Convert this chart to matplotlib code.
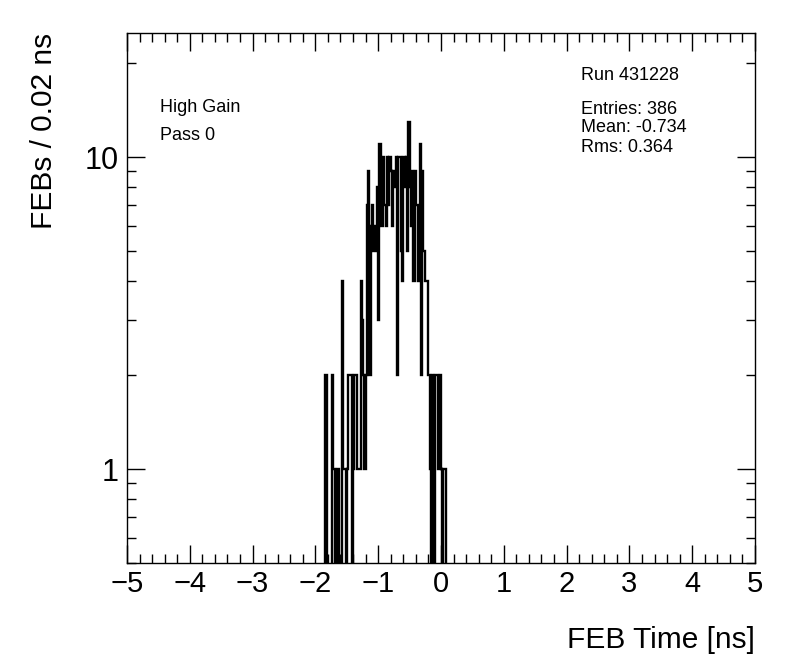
import numpy as np
import matplotlib
matplotlib.use("Agg")
import matplotlib.pyplot as plt
from matplotlib.ticker import MultipleLocator, FixedLocator, FixedFormatter, NullFormatter

plt.rcParams['font.family'] = ['Liberation Sans', 'DejaVu Sans']

# FEB time histogram, 0.02 ns bins starting at -1.90 ns
bin_start = -1.90
bin_width = 0.02
counts = [0, 0, 0, 2, 0, 0, 0, 0, 2, 1,
          1, 0, 1, 1, 0, 0, 4, 1, 1, 0,
          1, 2, 2, 2, 0, 1, 2, 2, 1, 1,
          1, 4, 3, 2, 1, 2, 7, 9, 2, 6,
          7, 5, 6, 5, 8, 3, 11, 6, 6, 10,
          7, 6, 10, 7, 10, 9, 6, 9, 8, 10,
          2, 10, 10, 5, 4, 10, 8, 10, 5, 13,
          8, 6, 9, 4, 9, 7, 7, 4, 11, 2,
          9, 5, 4, 4, 4, 2, 1, 0, 2, 0,
          2, 2, 2, 1, 2, 1, 0, 1, 1, 0]

run_text = "Run 431228"
stats_text = ["Entries: 386", "Mean: -0.734", "Rms: 0.364"]
gain_text = ["High Gain", "Pass 0"]

edges = bin_start + bin_width * np.arange(len(counts) + 1)

fig = plt.figure(figsize=(7.96, 6.72), dpi=100)
ax = fig.add_axes([0.1595, 0.1622, 0.789, 0.7888])

ax.set_yscale('log', nonpositive='clip')
ax.stairs(counts, edges, color='black', linewidth=1.7)

ax.set_xlim(-5, 5)
ax.set_ylim(0.5, 25)

ax.xaxis.set_major_locator(MultipleLocator(1))
ax.xaxis.set_minor_locator(MultipleLocator(0.2))
ax.yaxis.set_major_locator(FixedLocator([1, 10]))
ax.yaxis.set_major_formatter(FixedFormatter(['1', '10']))
ax.yaxis.set_minor_locator(FixedLocator([0.5, 0.6, 0.7, 0.8, 0.9, 2, 3, 4, 5, 6, 7, 8, 9, 20]))
ax.yaxis.set_minor_formatter(NullFormatter())

ax.tick_params(which='both', direction='in', top=True, right=True, width=1, labelsize=21)
ax.tick_params(axis='y', labelsize=22, pad=6)
ax.tick_params(which='major', length=13)
ax.tick_params(which='minor', length=6.5)
ax.tick_params(axis='x', pad=5)
for s in ax.spines.values():
    s.set_linewidth(1)

ax.set_xlabel('FEB Time [ns]', fontsize=21.5, loc='right', labelpad=20)
ax.set_ylabel('FEBs / 0.02 ns', fontsize=21.5, loc='top', labelpad=19)

fig.text(160 / 796, 1 - 107 / 672, gain_text[0], fontsize=13, va='center')
fig.text(160 / 796, 1 - 135 / 672, gain_text[1], fontsize=13, va='center')
fig.text(581 / 796, 1 - 75 / 672, run_text, fontsize=13, va='center')
for k, t in enumerate(stats_text):
    fig.text(581 / 796, 1 - (109 + 19 * k) / 672, t, fontsize=13, va='center')

fig.savefig('out.png', dpi=100)
